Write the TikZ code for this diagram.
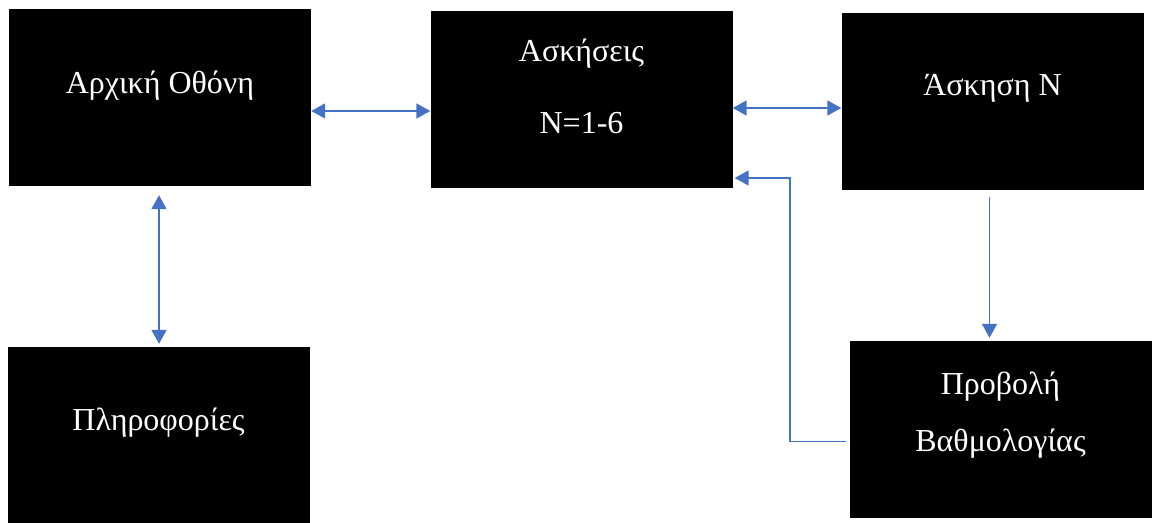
\documentclass[tikz,border=0pt]{standalone}
\usepackage{fontspec}
\setmainfont{Liberation Serif}
\usetikzlibrary{arrows.meta,positioning,calc}
\definecolor{linkBlue}{RGB}{68,114,196}

\begin{document}
\begin{tikzpicture}[x=1pt, y=-1pt,
    screen/.style={fill=black, minimum width=302pt, minimum height=177pt,
      inner sep=0pt},
    caption/.style={text=white, font=\fontsize{32}{38}\selectfont,
      align=center},
    link/.style={linkBlue, line width=1.7pt},
    >={Triangle[length=14pt,width=15pt]}
  ]
    \useasboundingbox (0,0) rectangle (1155,522);

    % Screens
    \node[screen] (home) at (160,97.5) {};
    \node[caption] (homeText) at (160,86) {Αρχική Οθόνη};

    \node[screen] (ex) at (581.5,99.5) {};
    \node[caption] (exText) at (581.5,86) {Ασκήσεις\\[34pt]N=1-6};

    \node[screen] (exN) at (992.5,101.5) {};
    \node[caption] (exNText) at (992.5,88) {Άσκηση N};

    \node[screen] (info) at (158.5,435.5) {};
    \node[caption] (infoText) at (158.5,423) {Πληροφορίες};

    \node[screen] (score) at (1000.5,429.5) {};
    \node[caption] (scoreText) at (1000.5,415)
      {Προβολή\\[19pt]Βαθμολογίας};

    \coordinate (bend) at (790,300);

    % Arrows
    \draw[<->,link] ([yshift=-13.5pt]home.east) -- ([yshift=-13.5pt]home.east -| ex.west);
    \draw[<->,link] ([yshift=-8.5pt]ex.east) -- ([yshift=-8.5pt]ex.east -| exN.west);
    \draw[<->,link] ([xshift=-1pt,yshift=-9pt]home.south) -- ([xshift=0.5pt,yshift=3pt]info.north);
    \draw[->,link] ([xshift=-3pt,yshift=-7pt]exN.south) -- ([xshift=-11pt,yshift=3pt]score.north);
    \draw[->,link] ([xshift=-3pt,yshift=-12pt]score.west) -| (bend)
      |- ([xshift=2pt,yshift=-78.5pt]ex.east);
\end{tikzpicture}
\end{document}
